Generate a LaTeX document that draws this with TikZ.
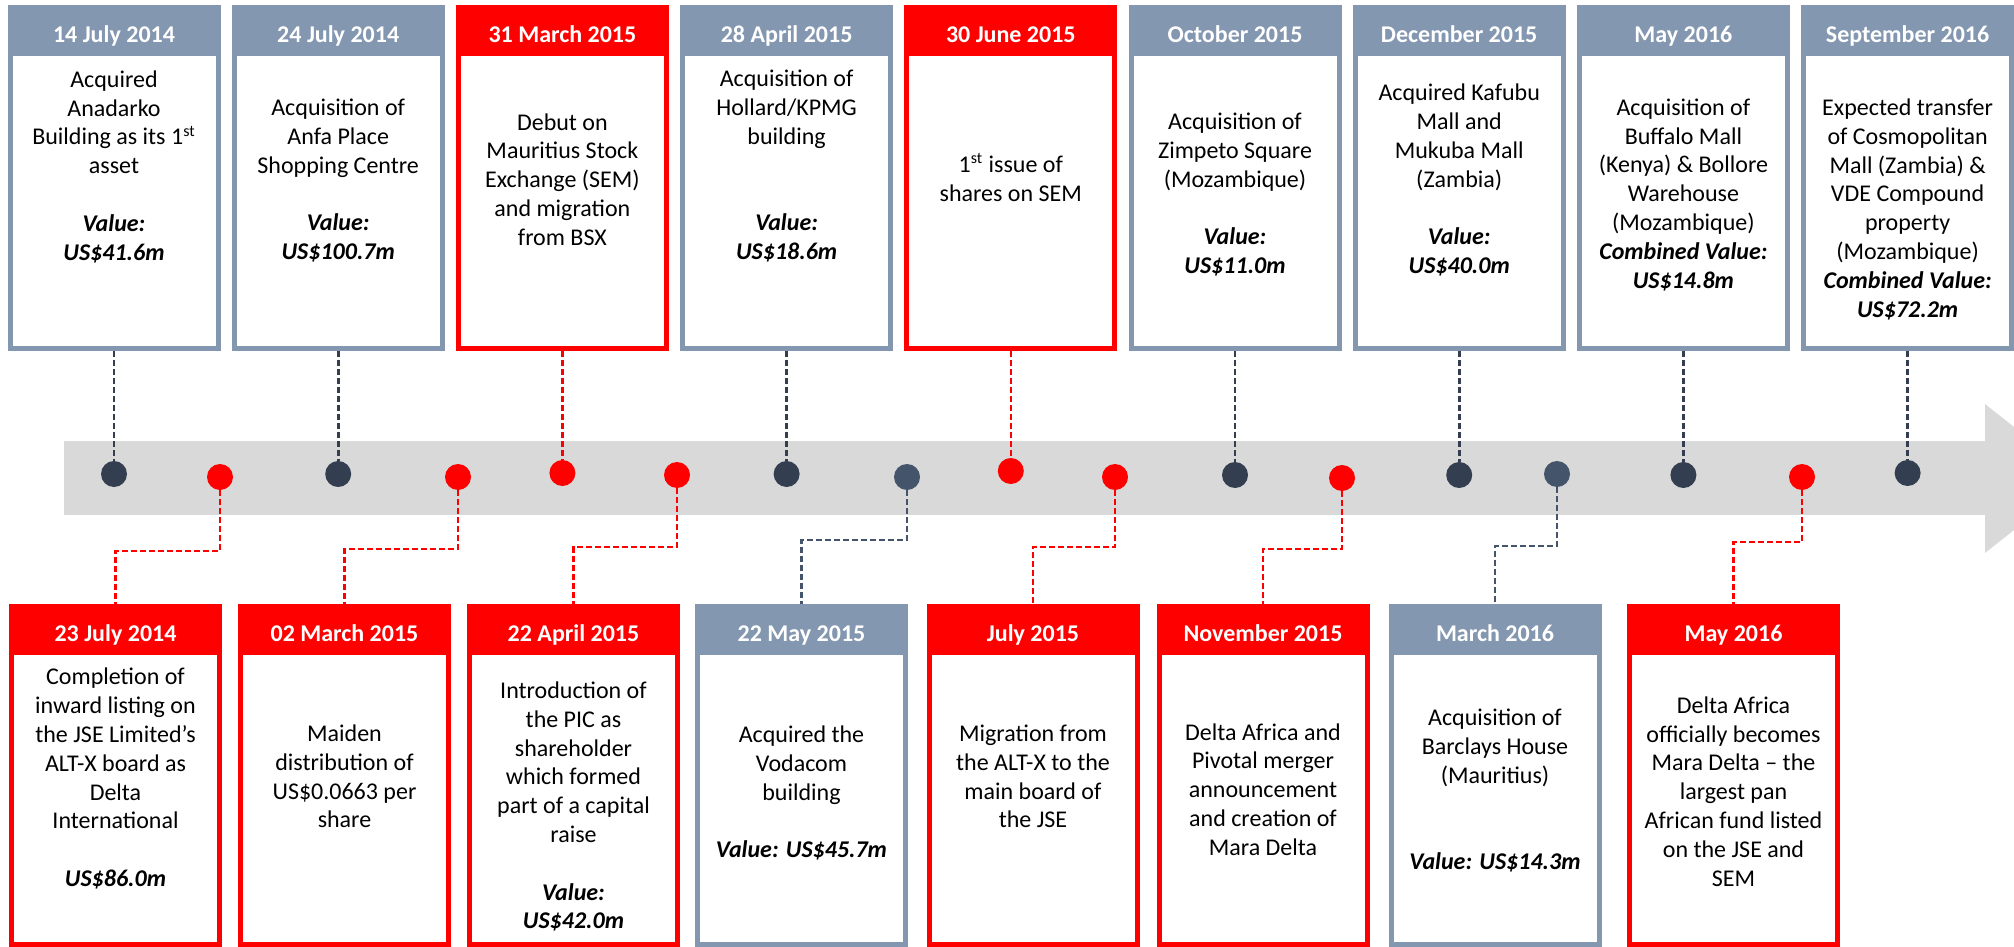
\documentclass[tikz,border=0pt]{standalone}
\usepackage{fontspec}
\setmainfont{Carlito}
\definecolor{hdrgray}{HTML}{8497B0}
\definecolor{hdrred}{HTML}{FF0000}
\definecolor{dotdark}{HTML}{333F50}
\definecolor{dotslate}{HTML}{44546A}
\definecolor{bandgray}{HTML}{D9D9D9}
\newcommand\vlu[1]{\textbf{\textit{#1}}}
\tikzset{
  boxframe/.style={draw=#1, line width=2.5pt, fill=white, minimum width=104pt, inner sep=0pt},
  tbox/.style={boxframe=#1, minimum height=170.5pt},
  bbox/.style={boxframe=#1, minimum height=169pt},
  hdr/.style={fill=#1, text=white, font=\bfseries\fontsize{12}{14}\selectfont, minimum width=106.5pt, minimum height=25.5pt, inner sep=0pt, text height=13pt, text depth=1.5pt},
  body/.style={align=center, font=\fontsize{12}{14.4}\selectfont, inner sep=0pt, yshift=-2.5pt},
  tdot/.style={circle, fill=#1, minimum size=13pt, inner sep=0pt},
  conn/.style={draw=#1, dash pattern=on 3pt off 1.5pt, line width=1.3pt}
}
\begin{document}
\begin{tikzpicture}[x=0.5pt,y=-0.5pt]
\useasboundingbox (0,0) rectangle (2014,947);
\clip (0,0) rectangle (2014,947);
% timeline band with arrow head
\fill[bandgray] (64,441) rectangle (1986,515);
\fill[bandgray] (1985,404) -- (2079,478.5) -- (1985,553) -- cycle;

% ---------- top boxes ----------
\node[tbox=hdrgray] (t1) at (114,178) {};
\node[tbox=hdrgray] (t2) at (338.2,178) {};
\node[tbox=hdrred]  (t3) at (562.4,178) {};
\node[tbox=hdrgray] (t4) at (786.6,178) {};
\node[tbox=hdrred]  (t5) at (1010.8,178) {};
\node[tbox=hdrgray] (t6) at (1235,178) {};
\node[tbox=hdrgray] (t7) at (1459.2,178) {};
\node[tbox=hdrgray] (t8) at (1683.4,178) {};
\node[tbox=hdrgray] (t9) at (1907.6,178) {};

\node[hdr=hdrgray] (th1) at (114,31) {14 July 2014};
\node[hdr=hdrgray] (th2) at (338.2,31) {24 July 2014};
\node[hdr=hdrred]  (th3) at (562.4,31) {31 March 2015};
\node[hdr=hdrgray] (th4) at (786.6,31) {28 April 2015};
\node[hdr=hdrred]  (th5) at (1010.8,31) {30 June 2015};
\node[hdr=hdrgray] (th6) at (1235,31) {October 2015};
\node[hdr=hdrgray] (th7) at (1459.2,31) {December 2015};
\node[hdr=hdrgray] (th8) at (1683.4,31) {May 2016};
\node[hdr=hdrgray] (th9) at (1907.6,31) {September 2016};

\node[body] (tx1) at (114,163) {\strut Acquired\\Anadarko\\Building as its 1\textsuperscript{st}\\asset\\[14.4pt]\vlu{Value:}\\\vlu{US\$41.6m}\strut};
\node[body] (tx2) at (338.2,177) {\strut Acquisition of\\Anfa Place\\Shopping Centre\\[14.4pt]\vlu{Value:}\\\vlu{US\$100.7m}\strut};
\node[body] (tx3) at (562.4,177) {\strut Debut on\\Mauritius Stock\\Exchange (SEM)\\and migration\\from BSX\strut};
\node[body] (tx4) at (786.6,162.5) {\strut Acquisition of\\Hollard/KPMG\\building\\[28.8pt]\vlu{Value:}\\\vlu{US\$18.6m}\strut};
\node[body] (tx5) at (1010.8,176) {\strut 1\textsuperscript{st} issue of\\shares on SEM\strut};
\node[body] (tx6) at (1235,191) {\strut Acquisition of\\Zimpeto Square\\(Mozambique)\\[14.4pt]\vlu{Value:}\\\vlu{US\$11.0m}\strut};
\node[body] (tx7) at (1459.2,176.5) {\strut Acquired Kafubu\\Mall and\\Mukuba Mall\\(Zambia)\\[14.4pt]\vlu{Value:}\\\vlu{US\$40.0m}\strut};
\node[body] (tx8) at (1683.4,191) {\strut Acquisition of\\Buffalo Mall\\(Kenya) \& Bollore\\Warehouse\\(Mozambique)\\\vlu{Combined Value:}\\\vlu{US\$14.8m}\strut};
\node[body] (tx9) at (1907.6,205.5) {\strut Expected transfer\\of Cosmopolitan\\Mall (Zambia) \&\\VDE Compound\\property\\(Mozambique)\\\vlu{Combined Value:}\\\vlu{US\$72.2m}\strut};

% ---------- bottom boxes ----------
\node[bbox=hdrred]  (b1) at (115.5,775.5) {};
\node[bbox=hdrred]  (b2) at (344.5,775.5) {};
\node[bbox=hdrred]  (b3) at (573.5,775.5) {};
\node[bbox=hdrgray] (b4) at (801.5,775.5) {};
\node[bbox=hdrred]  (b5) at (1033,775.5) {};
\node[bbox=hdrred]  (b6) at (1263,775.5) {};
\node[bbox=hdrgray] (b7) at (1495,775.5) {};
\node[bbox=hdrred]  (b8) at (1733.5,775.5) {};

\node[hdr=hdrred]  (bh1) at (115.5,629.5) {23 July 2014};
\node[hdr=hdrred]  (bh2) at (344.5,629.5) {02 March 2015};
\node[hdr=hdrred]  (bh3) at (573.5,629.5) {22 April 2015};
\node[hdr=hdrgray] (bh4) at (801.5,629.5) {22 May 2015};
\node[hdr=hdrred]  (bh5) at (1033,629.5) {July 2015};
\node[hdr=hdrred]  (bh6) at (1263,629.5) {November 2015};
\node[hdr=hdrgray] (bh7) at (1495,629.5) {March 2016};
\node[hdr=hdrred]  (bh8) at (1733.5,629.5) {May 2016};

\node[body] (bx1) at (115.5,775) {\strut Completion of\\inward listing on\\the JSE Limited’s\\ALT-X board as\\Delta\\International\\[14.4pt]\vlu{US\$86.0m}\strut};
\node[body] (bx2) at (344.5,774) {\strut Maiden\\distribution of\\US\$0.0663 per\\share\strut};
\node[body] (bx3) at (573.5,803) {\strut Introduction of\\the PIC as\\shareholder\\which formed\\part of a capital\\raise\\[14.4pt]\vlu{Value:}\\\vlu{US\$42.0m}\strut};
\node[body] (bx4) at (801.5,789.5) {\strut Acquired the\\Vodacom\\building\\[14.4pt]\vlu{Value: US\$45.7m}\strut};
\node[body] (bx5) at (1033,774) {\strut Migration from\\the ALT-X to the\\main board of\\the JSE\strut};
\node[body] (bx6) at (1263,787) {\strut Delta Africa and\\Pivotal merger\\announcement\\and creation of\\Mara Delta\strut};
\node[body] (bx7) at (1495,787) {\strut Acquisition of\\Barclays House\\(Mauritius)\\[28.8pt]\vlu{Value: US\$14.3m}\strut};
\node[body] (bx8) at (1733.5,789) {\strut Delta Africa\\officially becomes\\Mara Delta – the\\largest pan\\African fund listed\\on the JSE and\\SEM\strut};

% ---------- dots ----------
\node[tdot=dotdark] (dt1) at (114,474) {};
\node[tdot=dotdark] (dt2) at (338.2,474) {};
\node[tdot=hdrred]  (dt3) at (562.4,473) {};
\node[tdot=dotdark] (dt4) at (786.6,474) {};
\node[tdot=hdrred]  (dt5) at (1010.8,471) {};
\node[tdot=dotdark] (dt6) at (1235,475) {};
\node[tdot=dotdark] (dt7) at (1459.2,475) {};
\node[tdot=dotdark] (dt8) at (1683.4,475) {};
\node[tdot=dotdark] (dt9) at (1907.6,473) {};

\node[tdot=hdrred]   (db1) at (220,477) {};
\node[tdot=hdrred]   (db2) at (458,477) {};
\node[tdot=hdrred]   (db3) at (677,475) {};
\node[tdot=dotslate] (db4) at (907,477) {};
\node[tdot=hdrred]   (db5) at (1115,477) {};
\node[tdot=hdrred]   (db6) at (1342,478) {};
\node[tdot=dotslate] (db7) at (1557,474) {};
\node[tdot=hdrred]   (db8) at (1802,477) {};

% ---------- connectors ----------
\draw[conn=dotdark] (t1.south) -- (dt1);
\draw[conn=dotdark] (t2.south) -- (dt2);
\draw[conn=hdrred]  (t3.south) -- (dt3);
\draw[conn=dotdark] (t4.south) -- (dt4);
\draw[conn=hdrred]  (t5.south) -- (dt5);
\draw[conn=dotdark] (t6.south) -- (dt6);
\draw[conn=dotdark] (t7.south) -- (dt7);
\draw[conn=dotdark] (t8.south) -- (dt8);
\draw[conn=dotdark] (t9.south) -- (dt9);

\coordinate (e1) at (220,551);
\coordinate (e2) at (458,549);
\coordinate (e3) at (677,547);
\coordinate (e4) at (907,540);
\coordinate (e5) at (1115,547);
\coordinate (e6) at (1342,549);
\coordinate (e7) at (1557,546);
\coordinate (e8) at (1802,542);
\draw[conn=hdrred]   (db1) -- (e1) -| (b1.north);
\draw[conn=hdrred]   (db2) -- (e2) -| (b2.north);
\draw[conn=hdrred]   (db3) -- (e3) -| (b3.north);
\draw[conn=dotslate] (db4) -- (e4) -| (b4.north);
\draw[conn=hdrred]   (db5) -- (e5) -| (b5.north);
\draw[conn=hdrred]   (db6) -- (e6) -| (b6.north);
\draw[conn=dotslate] (db7) -- (e7) -| (b7.north);
\draw[conn=hdrred]   (db8) -- (e8) -| (b8.north);
\end{tikzpicture}
\end{document}
